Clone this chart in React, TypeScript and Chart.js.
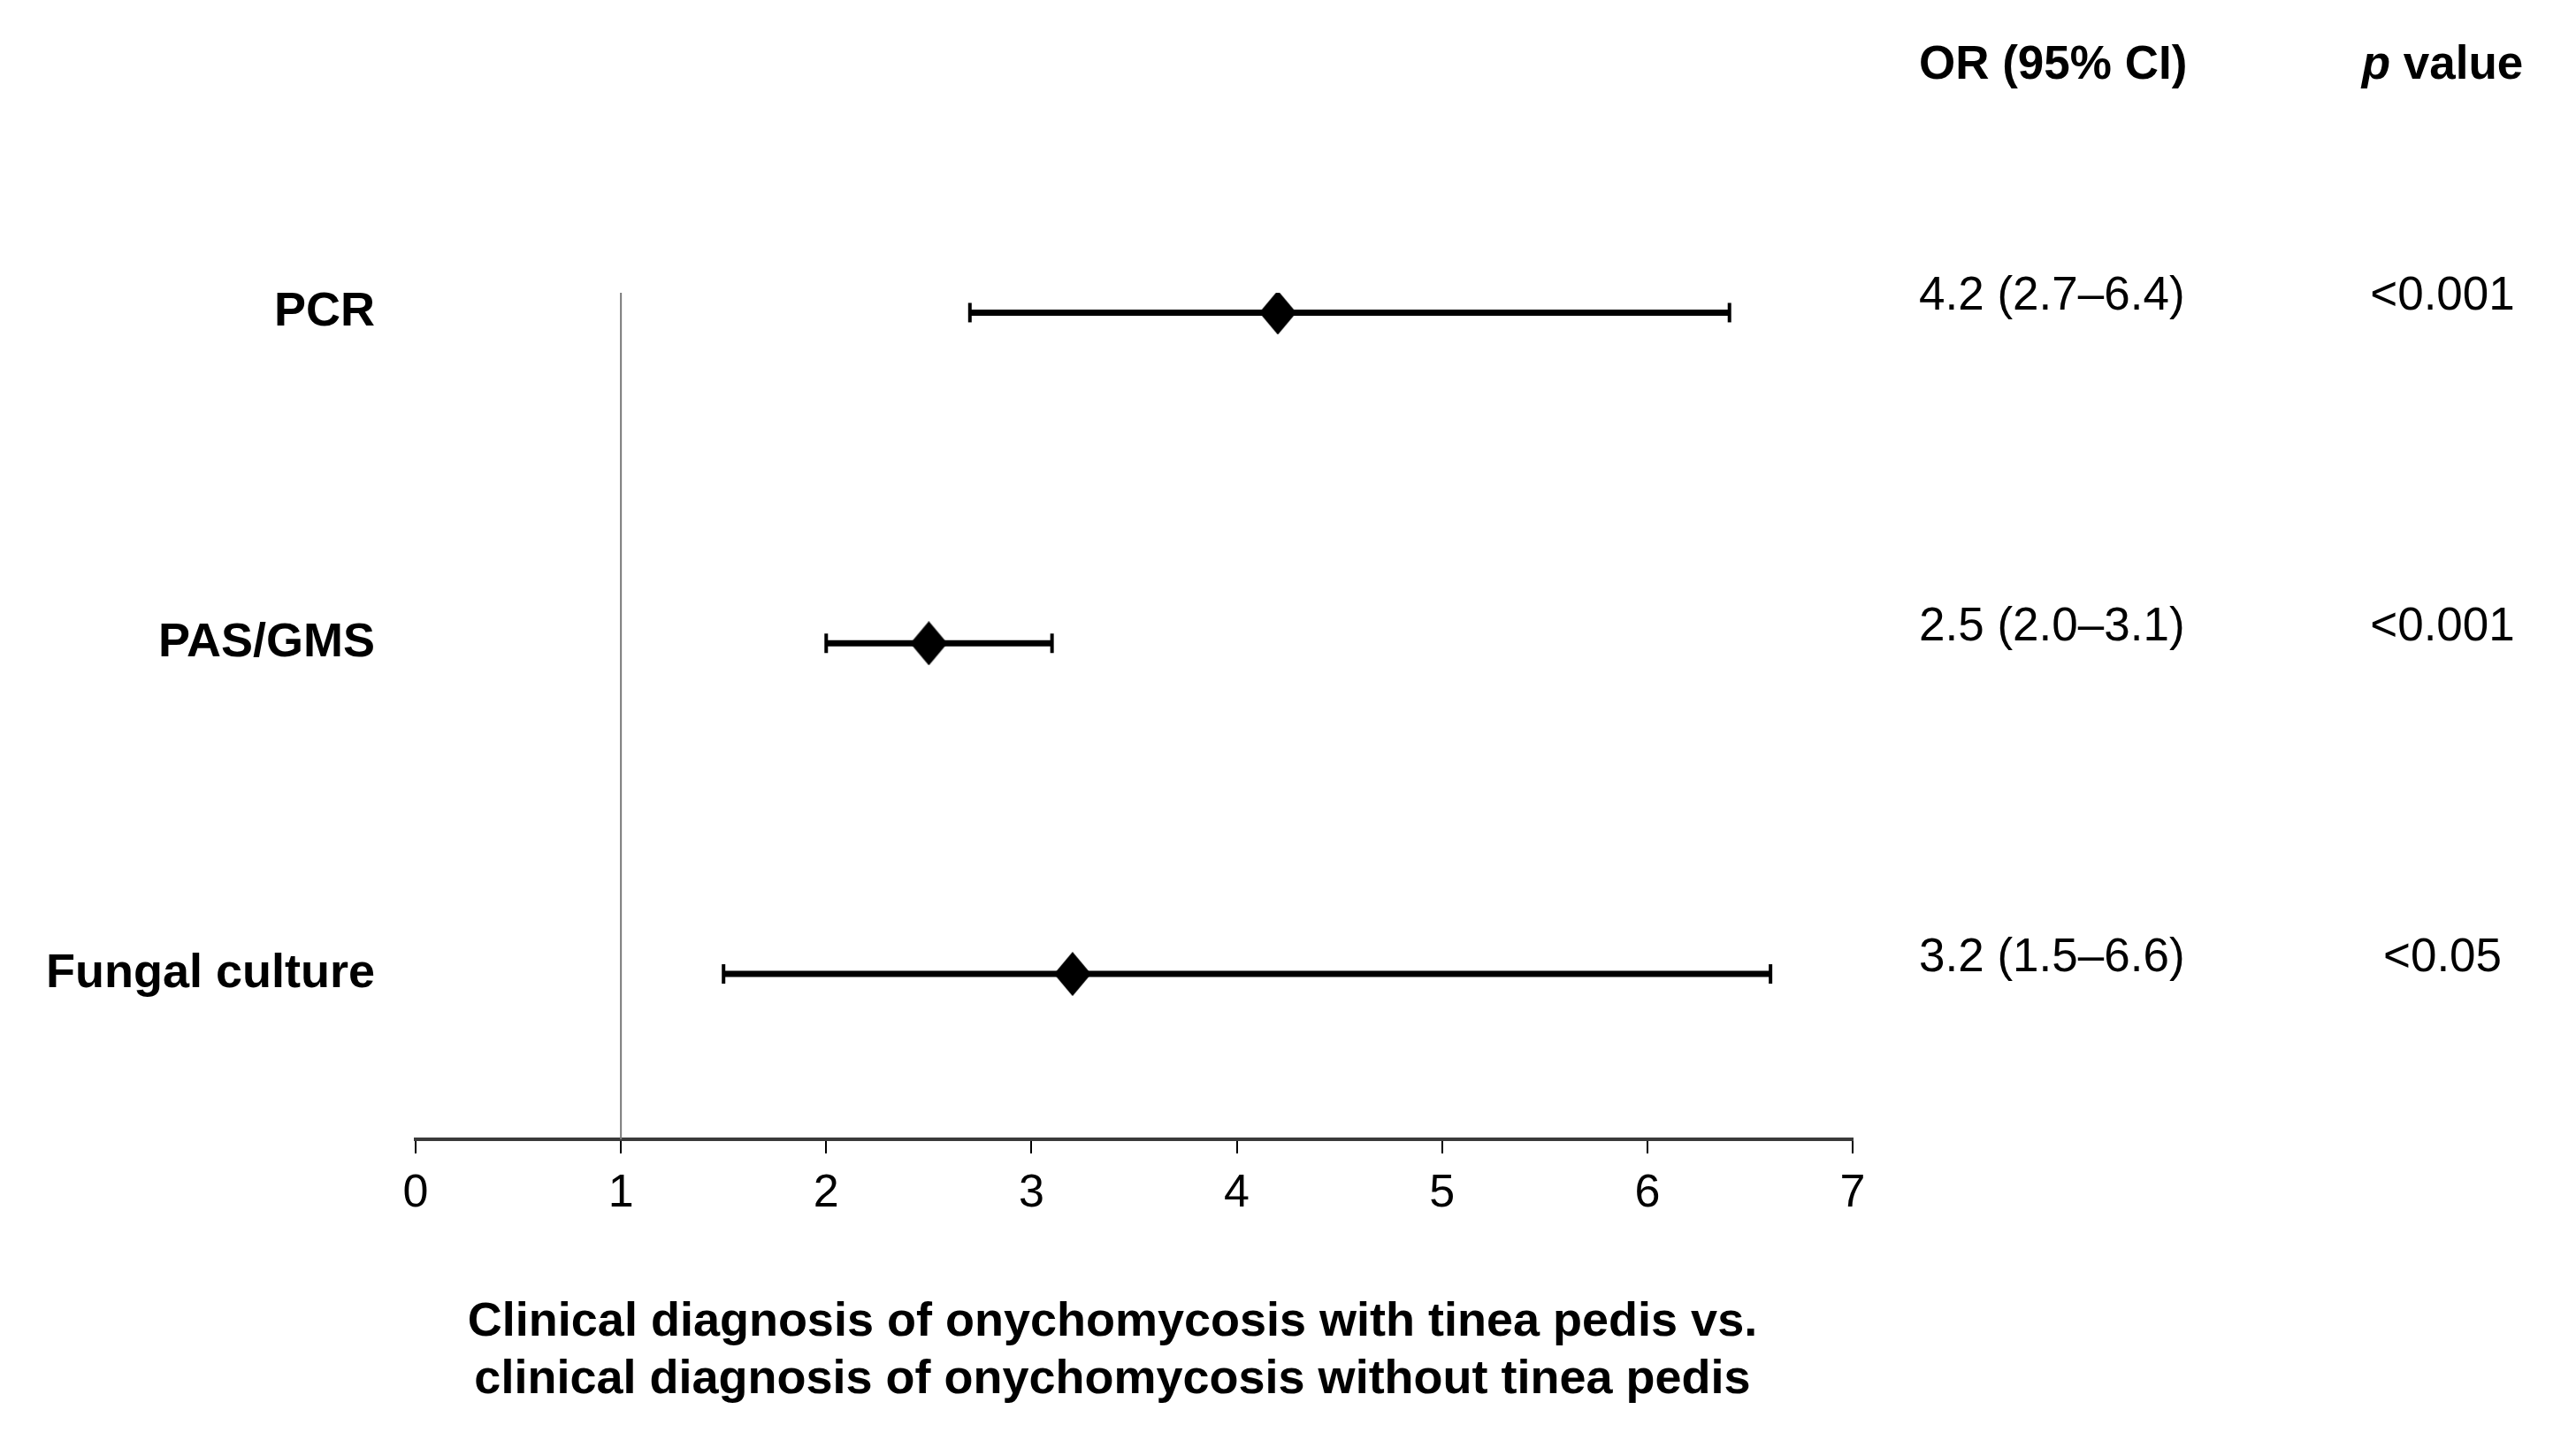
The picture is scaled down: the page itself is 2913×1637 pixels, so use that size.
import React, { useEffect, useRef } from "react";
import { Chart, registerables } from "chart.js";

Chart.register(...registerables);

const categories = ["PCR", "PAS/GMS", "Fungal culture"];
const rowPositions = [3, 2, 1];
const orValues = [4.2, 2.5, 3.2];
const ciLower = [2.7, 2.0, 1.5];
const ciUpper = [6.4, 3.1, 6.6];
const orLabels = ["4.2 (2.7\u20136.4)", "2.5 (2.0\u20133.1)", "3.2 (1.5\u20136.6)"];
const pLabels = ["<0.001", "<0.001", "<0.05"];
const xTicks = [0, 1, 2, 3, 4, 5, 6, 7];
const referenceValue = 1;
const xTitleLines = [
  "Clinical diagnosis of onychomycosis with tinea pedis vs.",
  "clinical diagnosis of onychomycosis without tinea pedis",
];
const headerOR = "OR (95% CI)";
const headerP = ["p", " value"];

const FONT = "'Liberation Sans', Arial, sans-serif";
const W = 2913;
const H = 1637;
const Y_MIN = 0.5;
const Y_MAX = 3.06;

function makeDiamond(): HTMLCanvasElement {
  const c = document.createElement("canvas");
  const w = 42;
  const h = 50;
  c.width = w;
  c.height = h;
  const g = c.getContext("2d")!;
  g.fillStyle = "#000";
  g.beginPath();
  g.moveTo(w / 2, 0);
  g.lineTo(w, h / 2);
  g.lineTo(w / 2, h);
  g.lineTo(0, h / 2);
  g.closePath();
  g.fill();
  return c;
}

const overlayPlugin = {
  id: "overlay",
  afterDraw(chart: any) {
    const ctx = chart.ctx as CanvasRenderingContext2D;
    const ys = chart.scales.y;
    ctx.save();
    ctx.fillStyle = "#000";
    ctx.textBaseline = "middle";

    // headers
    ctx.font = `bold 53px ${FONT}`;
    ctx.textAlign = "left";
    ctx.fillText(headerOR, 2170, 74);
    ctx.font = `italic bold 53px ${FONT}`;
    const w1 = ctx.measureText(headerP[0]).width;
    ctx.font = `bold 53px ${FONT}`;
    const w2 = ctx.measureText(headerP[1]).width;
    const startP = 2762 - (w1 + w2) / 2;
    ctx.font = `italic bold 53px ${FONT}`;
    ctx.fillText(headerP[0], startP, 74);
    ctx.font = `bold 53px ${FONT}`;
    ctx.fillText(headerP[1], startP + w1, 74);

    // right columns
    ctx.font = `53px ${FONT}`;
    rowPositions.forEach((r, i) => {
      const py = ys.getPixelForValue(r) - 18;
      ctx.textAlign = "left";
      ctx.fillText(orLabels[i], 2170, py);
      ctx.textAlign = "center";
      ctx.fillText(pLabels[i], 2762, py);
    });

    // x-axis title
    ctx.font = `bold 54px ${FONT}`;
    ctx.textAlign = "center";
    xTitleLines.forEach((line, i) => {
      ctx.fillText(line, 1258, 1495 + i * 65);
    });
    ctx.restore();
  },
};

export default function App() {
  const ref = useRef<HTMLCanvasElement | null>(null);

  useEffect(() => {
    document.body.style.margin = "0";
    document.body.style.overflow = "hidden";
    const canvas = ref.current!;
    const diamond = makeDiamond();

    const ciDatasets = categories.map((cat, i) => ({
      label: cat + " CI",
      data: [
        { x: ciLower[i], y: rowPositions[i] },
        { x: ciUpper[i], y: rowPositions[i] },
      ],
      showLine: true,
      borderColor: "#000",
      borderWidth: 7,
      pointStyle: "line" as const,
      pointRotation: 90,
      pointRadius: 11,
      pointBorderWidth: 4,
      pointBorderColor: "#000",
      pointBackgroundColor: "#000",
      order: 2,
    }));

    const chart = new Chart(canvas, {
      type: "scatter",
      data: {
        datasets: [
          {
            label: "OR",
            data: orValues.map((v, i) => ({ x: v, y: rowPositions[i] })),
            pointStyle: diamond as any,
            pointRadius: 21,
            order: 0,
          },
          ...ciDatasets,
          {
            label: "reference",
            data: [
              { x: referenceValue, y: Y_MIN },
              { x: referenceValue, y: Y_MAX },
            ],
            showLine: true,
            borderColor: "#7a7a7a",
            borderWidth: 2,
            pointRadius: 0,
            order: 3,
          },
        ] as any,
      },
      options: {
        animation: false,
        responsive: true,
        maintainAspectRatio: false,
        events: [],
        layout: { padding: { left: 0, right: W - 2095, top: 331, bottom: 0 } },
        plugins: {
          legend: { display: false },
          tooltip: { enabled: false },
          title: { display: false },
        },
        scales: {
          x: {
            type: "linear",
            min: 0,
            max: 7,
            afterBuildTicks: (s: any) => {
              s.ticks = xTicks.map((v) => ({ value: v }));
            },
            afterFit: (s: any) => {
              s.height = H - 1288;
            },
            border: { display: true, color: "#3a3a3a", width: 4 },
            grid: {
              drawOnChartArea: false,
              drawTicks: true,
              tickLength: 16,
              color: "#000",
              lineWidth: 2,
            },
            ticks: {
              color: "#000",
              font: { family: FONT, size: 52 },
              padding: 14,
              maxRotation: 0,
            },
          },
          y: {
            type: "linear",
            min: Y_MIN,
            max: Y_MAX,
            afterBuildTicks: (s: any) => {
              s.ticks = rowPositions.map((v) => ({ value: v }));
            },
            afterFit: (s: any) => {
              s.width = 470;
            },
            border: { display: false },
            grid: { display: false, drawTicks: false },
            ticks: {
              color: "#000",
              font: { family: FONT, size: 54, weight: "bold" },
              padding: 46,
              callback: (v: any) => {
                const i = rowPositions.indexOf(Number(v));
                return i >= 0 ? categories[i] : "";
              },
            },
          },
        },
      },
      plugins: [overlayPlugin],
    });

    return () => chart.destroy();
  }, []);

  return (
    <div style={{ width: W, height: H, position: "relative", background: "#fff" }}>
      <canvas ref={ref} />
    </div>
  );
}
